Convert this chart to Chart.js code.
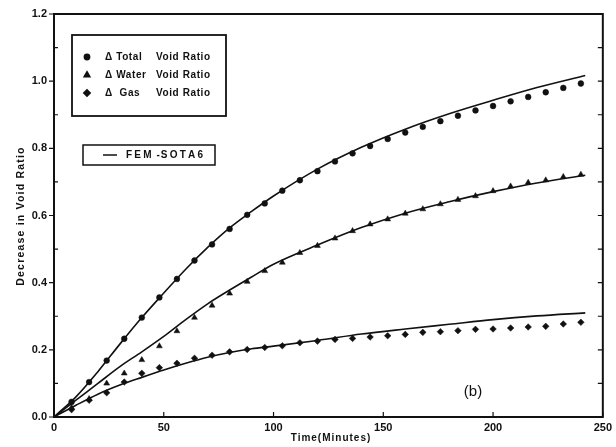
<!DOCTYPE html>
<html>
<head>
<meta charset="utf-8">
<script src="https://cdn.jsdelivr.net/npm/chart.js@4/dist/chart.umd.min.js"></script>
<style>
  html, body { margin: 0; padding: 0; background: #fff; }
  #wrap { width: 616px; height: 447px; }
</style>
</head>
<body>
<div id="wrap"><canvas id="chart" width="616" height="447"></canvas></div>
<script>
// measured points, every 8 minutes
const time = [8, 16, 24, 32, 40, 48, 56, 64, 72, 80, 88, 96, 104, 112, 120,
  128, 136, 144, 152, 160, 168, 176, 184, 192, 200, 208, 216, 224, 232, 240];
const totalVoid = [0.045, 0.104, 0.168, 0.233, 0.296, 0.356, 0.411, 0.466, 0.514, 0.560,
  0.602, 0.636, 0.674, 0.705, 0.732, 0.761, 0.785, 0.807, 0.828, 0.847,
  0.864, 0.881, 0.897, 0.913, 0.926, 0.940, 0.953, 0.967, 0.980, 0.993];
const waterVoid = [0.028, 0.054, 0.100, 0.130, 0.170, 0.211, 0.256, 0.296, 0.332, 0.368,
  0.403, 0.435, 0.460, 0.489, 0.510, 0.532, 0.554, 0.574, 0.589, 0.606,
  0.619, 0.634, 0.647, 0.658, 0.673, 0.687, 0.698, 0.705, 0.715, 0.722];
const gasVoid = [0.022, 0.050, 0.072, 0.104, 0.130, 0.147, 0.160, 0.175, 0.184, 0.194,
  0.201, 0.207, 0.212, 0.221, 0.226, 0.231, 0.234, 0.238, 0.242, 0.246,
  0.252, 0.254, 0.257, 0.261, 0.262, 0.265, 0.268, 0.270, 0.277, 0.282];

// FEM-SOTA6 curves
const fitTime = [0, 10, 20, 30, 40, 50, 60, 70, 80, 90, 100, 120, 140, 160, 180, 200, 220, 242];
const fitTotal = [0, 0.060, 0.135, 0.217, 0.296, 0.369, 0.440, 0.505, 0.563, 0.612, 0.658,
  0.738, 0.803, 0.857, 0.903, 0.943, 0.981, 1.017];
const fitWater = [0, 0.050, 0.100, 0.150, 0.194, 0.240, 0.290, 0.337, 0.378, 0.417, 0.455,
  0.512, 0.564, 0.607, 0.641, 0.671, 0.697, 0.720];
const fitGas = [0, 0.035, 0.068, 0.095, 0.118, 0.140, 0.160, 0.178, 0.192, 0.203, 0.211,
  0.228, 0.247, 0.262, 0.276, 0.290, 0.301, 0.310];

const yTicks = [0, 0.2, 0.4, 0.6, 0.8, 1.0, 1.2];
const xTicks = [0, 50, 100, 150, 200, 250];

const legendItems = [
  { style: "circle", label: "\u0394 Total", rest: "Void Ratio" },
  { style: "triangle", label: "\u0394 Water", rest: "Void Ratio" },
  { style: "rectRot", label: "\u0394  Gas", rest: "Void Ratio" },
];

const pts = (xs, ys) => xs.map((x, i) => ({ x, y: ys[i] }));
const INK = "#111";
const FONT = "'Liberation Sans', Arial, sans-serif";

const markSet = (data, style, r) => ({
  type: "scatter",
  data,
  showLine: false,
  pointStyle: style,
  pointRadius: r,
  pointBackgroundColor: INK,
  pointBorderColor: INK,
  pointBorderWidth: 0.5,
});
const fitSet = (data) => ({
  type: "line",
  data,
  borderColor: INK,
  borderWidth: 1.6,
  pointRadius: 0,
  cubicInterpolationMode: "monotone",
  fill: false,
});

const decor = {
  id: "decor",
  afterDraw(chart) {
    const ctx = chart.ctx;
    const a = chart.chartArea;
    const xs = chart.scales.x;
    const ys = chart.scales.y;
    ctx.save();
    ctx.strokeStyle = INK;
    ctx.fillStyle = INK;
    // frame
    ctx.lineWidth = 2;
    ctx.strokeRect(a.left, a.top, a.right - a.left, a.bottom - a.top);
    // ticks
    ctx.lineWidth = 1.2;
    ctx.beginPath();
    for (let k = 0; k <= 12; k++) {
      const y = ys.getPixelForValue(k / 10);
      if (k % 2 === 0) {
        ctx.moveTo(a.left - 5, y); ctx.lineTo(a.left, y);
      } else {
        ctx.moveTo(a.left, y); ctx.lineTo(a.left + 4, y);
      }
      ctx.moveTo(a.right, y); ctx.lineTo(a.right - 5, y);
    }
    for (const t of xTicks) {
      const x = xs.getPixelForValue(t);
      ctx.moveTo(x, a.bottom); ctx.lineTo(x, a.bottom - 5);
    }
    ctx.stroke();

    // data legend box
    ctx.lineWidth = 1.8;
    ctx.strokeRect(72, 35, 154, 81);
    ctx.font = "bold 10px " + FONT;
    ctx.letterSpacing = "0.6px";
    ctx.textBaseline = "middle";
    ctx.textAlign = "left";
    const rows = [57, 75, 93];
    legendItems.forEach((it, i) => {
      Chart.helpers.drawPoint(ctx, { pointStyle: it.style, radius: it.style === "circle" ? 2.5 : 3, borderWidth: 0.5 }, 87, rows[i]);
      ctx.fill();
      ctx.fillText(it.label, 105, rows[i]);
      ctx.fillText(it.rest, 156, rows[i]);
    });

    // model legend box
    ctx.lineWidth = 1.5;
    ctx.strokeRect(83, 145, 132, 20);
    ctx.beginPath();
    ctx.moveTo(103, 155); ctx.lineTo(117, 155);
    ctx.stroke();
    // letter by letter so the spacing is the same everywhere
    ctx.letterSpacing = "0px";
    let cx = 126;
    for (const ch of ["F", "E", "M", "-", "S", "O", "T", "A", "6"]) {
      ctx.fillText(ch, cx, 155.5);
      cx += ctx.measureText(ch).width + (ch === "M" ? 5 : ch === "-" ? 1 : 2.2);
    }

    // axis titles
    ctx.letterSpacing = "1px";
    ctx.font = "bold 10px " + FONT;
    ctx.textAlign = "center";
    ctx.fillText("Time(Minutes)", 331, 438);
    ctx.save();
    ctx.translate(21, 216);
    ctx.rotate(-Math.PI / 2);
    ctx.letterSpacing = "1.2px";
    ctx.font = "bold 10.5px " + FONT;
    ctx.fillText("Decrease in Void Ratio", 0, 0);
    ctx.restore();

    ctx.letterSpacing = "0px";
    ctx.font = "15px " + FONT;
    ctx.fillText("(b)", 473, 392);
    ctx.restore();
  },
};

new Chart(document.getElementById("chart"), {
  data: {
    datasets: [
      markSet(pts(time, totalVoid), "circle", 2.9),
      markSet(pts(time, waterVoid), "triangle", 3.4),
      markSet(pts(time, gasVoid), "rectRot", 3.3),
      fitSet(pts(fitTime, fitTotal)),
      fitSet(pts(fitTime, fitWater)),
      fitSet(pts(fitTime, fitGas)),
    ],
  },
  options: {
    responsive: false,
    animation: false,
    layout: { padding: { top: 14, right: 13, bottom: 0, left: 0 } },
    plugins: { legend: { display: false }, tooltip: { enabled: false } },
    scales: {
      x: {
        type: "linear",
        min: 0,
        max: 250,
        afterFit: (s) => { s.height = 30; },
        afterBuildTicks: (s) => { s.ticks = xTicks.map((v) => ({ value: v })); },
        grid: { display: false, drawTicks: false },
        border: { display: false },
        ticks: { color: INK, padding: 4, font: { family: FONT, size: 11, weight: "bold" } },
      },
      y: {
        type: "linear",
        min: 0,
        max: 1.2,
        afterFit: (s) => { s.width = 54; },
        afterBuildTicks: (s) => { s.ticks = yTicks.map((v) => ({ value: v })); },
        grid: { display: false, drawTicks: false },
        border: { display: false },
        ticks: {
          color: INK,
          padding: 7,
          font: { family: FONT, size: 11, weight: "bold" },
          callback: (v) => v.toFixed(1),
        },
      },
    },
  },
  plugins: [decor],
});
</script>
</body>
</html>
